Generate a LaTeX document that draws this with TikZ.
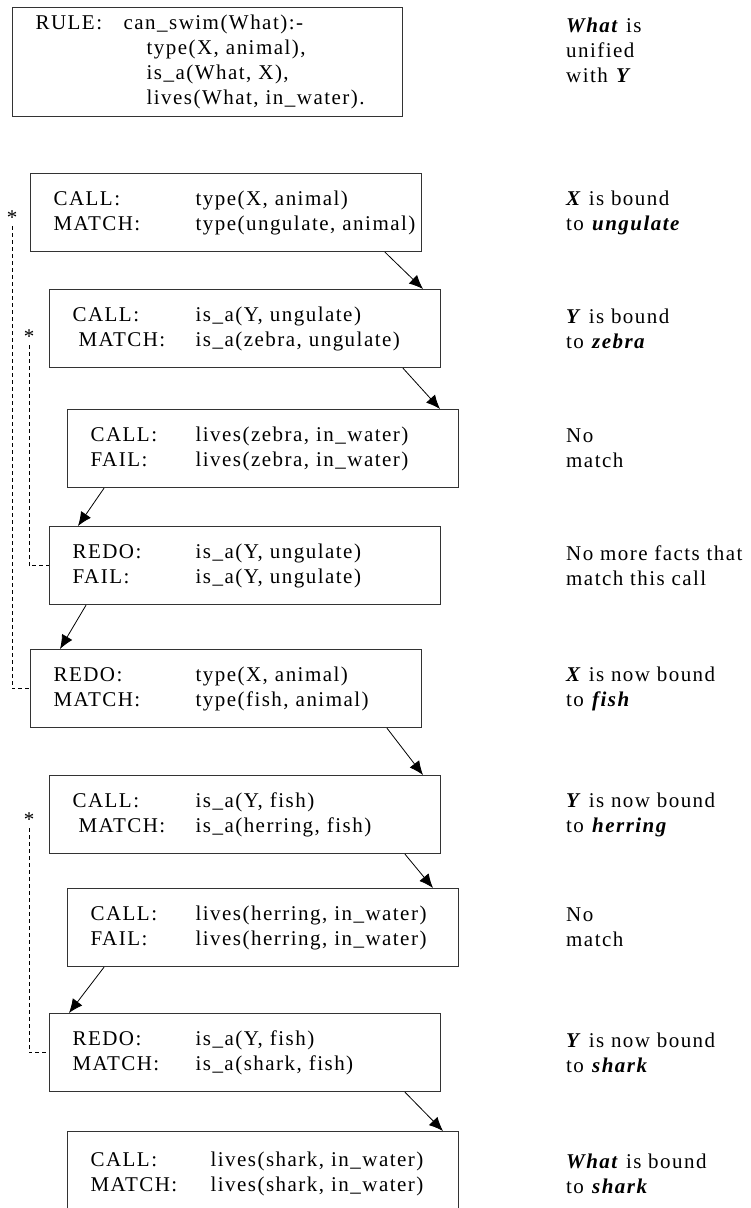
\documentclass[tikz,border=0pt]{standalone}
\usepackage{fontspec}
\setmainfont{Liberation Serif}[LetterSpace=7]
\usetikzlibrary{arrows.meta}

\newcommand{\goal}[3]{\mbox{\makebox[#1][l]{#2}#3}}
\newcommand{\bi}[1]{\textbf{\textit{#1}}}

\begin{document}
\begin{tikzpicture}[x=1pt, y=-1pt,
        every node/.style = {font=\fontsize{21}{25}\selectfont},
        trace/.style = {draw=black!80, line width=1.2pt, fill=white,
            anchor=north west, inner xsep=23pt, inner ysep=0pt,
            text width=345pt, minimum height=78pt, align=left},
        note/.style = {anchor=west, align=left, inner sep=0pt},
        flow/.style = {-{Latex[length=14pt,width=12pt]}, line width=0.8pt},
        redo/.style = {dash pattern=on 4pt off 3pt, line width=0.8pt},
        asterisk/.style = {inner sep=1pt}
        ]

    \useasboundingbox (0,0) rectangle (751,1208);
    \coordinate (notes) at (566,0);

    % Rule
    \node[trace, text width=344pt, minimum height=109pt] (rule) at (12,7)
        {\goal{88pt}{RULE:}{can\_swim(What):-}\\
         \hspace*{111pt}type(X, animal),\\
         \hspace*{111pt}is\_a(What, X),\\
         \hspace*{111pt}lives(What, in\_water).};
    \node[note] (nrule) at (566,50) {\bi{What} is\\unified\\with \bi{Y}};

    % Trace boxes
    \node[trace] (b1) at (30,173)
        {\goal{142pt}{CALL:}{type(X, animal)}\\
         \goal{142pt}{MATCH:}{type(ungulate, animal)}};
    \node[note] (n1) at (b1.center -| notes) {\bi{X} is bound\\to \bi{ungulate}};

    \node[trace] (b2) at (49,289)
        {\goal{123pt}{CALL:}{is\_a(Y, ungulate)}\\
         \hspace*{6pt}\goal{117pt}{MATCH:}{is\_a(zebra, ungulate)}};
    \node[note] (n2) at (b2.center -| notes) {\bi{Y} is bound\\to \bi{zebra}};

    \node[trace] (b3) at (67,409)
        {\goal{105pt}{CALL:}{lives(zebra, in\_water)}\\
         \goal{105pt}{FAIL:}{lives(zebra, in\_water)}};
    \node[note] (n3) at (b3.center -| notes) {No\\match};

    \node[trace] (b4) at (49,526)
        {\goal{123pt}{REDO:}{is\_a(Y, ungulate)}\\
         \goal{123pt}{FAIL:}{is\_a(Y, ungulate)}};
    \node[note] (n4) at (b4.center -| notes) {No more facts that\\match this call};

    \node[trace] (b5) at (30,649)
        {\goal{142pt}{REDO:}{type(X, animal)}\\
         \goal{142pt}{MATCH:}{type(fish, animal)}};
    \node[note] (n5) at (b5.center -| notes) {\bi{X} is now bound\\to \bi{fish}};

    \node[trace] (b6) at (49,775)
        {\goal{123pt}{CALL:}{is\_a(Y, fish)}\\
         \hspace*{6pt}\goal{117pt}{MATCH:}{is\_a(herring, fish)}};
    \node[note] (n6) at (b6.center -| notes) {\bi{Y} is now bound\\to \bi{herring}};

    \node[trace] (b7) at (67,888)
        {\goal{105pt}{CALL:}{lives(herring, in\_water)}\\
         \goal{105pt}{FAIL:}{lives(herring, in\_water)}};
    \node[note] (n7) at (b7.center -| notes) {No\\match};

    \node[trace] (b8) at (49,1013)
        {\goal{123pt}{REDO:}{is\_a(Y, fish)}\\
         \goal{123pt}{MATCH:}{is\_a(shark, fish)}};
    \node[note] (n8) at (b8.center -| notes) {\bi{Y} is now bound\\to \bi{shark}};

    \node[trace, minimum height=84pt] (b9) at (67,1131)
        {\goal{120pt}{CALL:}{lives(shark, in\_water)}\\
         \goal{120pt}{MATCH:}{lives(shark, in\_water)}};
    \node[note] (n9) at (b9.center -| notes) {\bi{What} is bound\\to \bi{shark}};

    % Calls and fails
    \draw[flow] ([xshift=355pt]b1.south west) -- ([xshift=374pt]b2.north west);
    \draw[flow] ([xshift=354pt]b2.south west) -- ([xshift=373pt]b3.north west);
    \draw[flow] ([xshift=37pt]b3.south west) -- ([xshift=29pt]b4.north west);
    \draw[flow] ([xshift=37pt]b4.south west) -- ([xshift=30pt]b5.north west);
    \draw[flow] ([xshift=357pt]b5.south west) -- ([xshift=374pt]b6.north west);
    \draw[flow] ([xshift=356pt]b6.south west) -- ([xshift=366pt]b7.north west);
    \draw[flow] ([xshift=37pt]b7.south west) -- ([xshift=20pt]b8.north west);
    \draw[flow] ([xshift=356pt]b8.south west) -- ([xshift=376pt]b9.north west);

    % Backtracking
    \node[asterisk] (s1) at (12,218) {*};
    \draw[redo] (s1.south) |- (b5.west);

    \node[asterisk] (s2) at (29,337) {*};
    \draw[redo] (s2.south) |- (b4.west);

    \node[asterisk] (s3) at (29,820) {*};
    \draw[redo] (s3.south) |- (b8.west);

\end{tikzpicture}
\end{document}
